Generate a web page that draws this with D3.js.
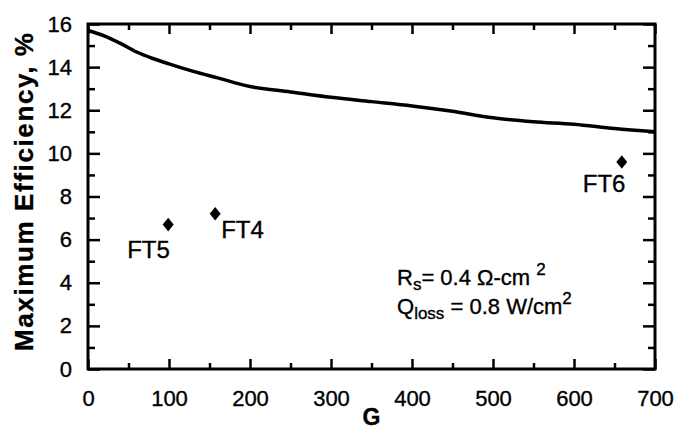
<!DOCTYPE html>
<html>
<head>
<meta charset="utf-8">
<script src="https://cdn.jsdelivr.net/npm/d3@7"></script>
<style>
  body { margin: 0; background: #fff; }
  text { font-family: "Liberation Sans", Arial, Helvetica, sans-serif; fill: #000; stroke: #000; stroke-width: 0.35px; }
</style>
</head>
<body>
<script>
// Curve: max efficiency vs G
var curveG   = [0, 20, 40, 60, 80, 100, 130, 160, 200, 250, 300, 350, 400, 450, 500, 550, 600, 650, 700];
var curveEff = [15.7, 15.45, 15.1, 14.7, 14.4, 14.15, 13.8, 13.5, 13.1, 12.85, 12.6, 12.4, 12.2, 11.95, 11.65, 11.47, 11.35, 11.15, 11.0];

// Measured points
var pointNames = ["FT5", "FT4", "FT6"];
var pointG     = [99, 157, 659];
var pointEff   = [6.7, 7.2, 9.6];

var xTicks = [0, 100, 200, 300, 400, 500, 600, 700];
var xMinor = [50, 150, 250, 350, 450, 550, 650];
var yTicks = [0, 2, 4, 6, 8, 10, 12, 14, 16];
var yMinor = [1, 3, 5, 7, 9, 11, 13, 15];

var svgOptions = { width: 680, height: 429 };
var margin = { top: 24, right: 25, bottom: 60, left: 88 };
var w = svgOptions.width - margin.left - margin.right;
var h = svgOptions.height - margin.top - margin.bottom;

var svg = d3.select("body").append("svg")
  .attr("width", svgOptions.width)
  .attr("height", svgOptions.height);

var g = svg.append("g").attr("transform", "translate(" + margin.left + "," + margin.top + ")");

var x = d3.scaleLinear().domain([0, 700]).range([0, w]);
var y = d3.scaleLinear().domain([0, 16]).range([h, 0]);

// helper to style an axis group
var styleAxis = function (sel) {
  sel.select(".domain").remove();
  sel.selectAll(".tick line").attr("stroke", "#000").attr("stroke-width", 2.5);
  sel.selectAll(".tick text").style("font-size", "22px").attr("fill", "#000");
};

// bottom, major + minor
g.append("g").attr("transform", "translate(0," + h + ")")
  .call(d3.axisBottom(x).tickValues(xTicks).tickSize(-10).tickPadding(21).tickFormat(d3.format("d")))
  .call(styleAxis);
g.append("g").attr("transform", "translate(0," + h + ")")
  .call(d3.axisBottom(x).tickValues(xMinor).tickSize(-6).tickFormat(""))
  .call(styleAxis);

// top
g.append("g")
  .call(d3.axisTop(x).tickValues(xTicks).tickSize(-10).tickFormat(""))
  .call(styleAxis);
g.append("g")
  .call(d3.axisTop(x).tickValues(xMinor).tickSize(-6).tickFormat(""))
  .call(styleAxis);

// left
g.append("g")
  .call(d3.axisLeft(y).tickValues(yTicks).tickSize(-12).tickPadding(16).tickFormat(d3.format("d")))
  .call(styleAxis);
g.append("g")
  .call(d3.axisLeft(y).tickValues(yMinor).tickSize(-7).tickFormat(""))
  .call(styleAxis);

// right
g.append("g").attr("transform", "translate(" + w + ",0)")
  .call(d3.axisRight(y).tickValues(yTicks).tickSize(-12).tickFormat(""))
  .call(styleAxis);
g.append("g").attr("transform", "translate(" + w + ",0)")
  .call(d3.axisRight(y).tickValues(yMinor).tickSize(-7).tickFormat(""))
  .call(styleAxis);

// frame
g.append("rect")
  .attr("width", w).attr("height", h)
  .attr("fill", "none").attr("stroke", "#000").attr("stroke-width", 3);

// curve
var line = d3.line()
  .x(function (d, i) { return x(curveG[i]); })
  .y(function (d) { return y(d); })
  .curve(d3.curveMonotoneX);

g.append("path")
  .datum(curveEff)
  .attr("d", line)
  .attr("fill", "none")
  .attr("stroke", "#000")
  .attr("stroke-width", 3.5);

// diamonds
var diamond = d3.symbol().type(d3.symbolDiamond2).size(77);
g.selectAll(".pt")
  .data(pointG)
  .enter().append("path")
  .attr("class", "pt")
  .attr("d", diamond)
  .attr("transform", function (d, i) { return "translate(" + x(d) + "," + y(pointEff[i]) + ") scale(1,1.25)"; })
  .attr("fill", "#000");

// point labels (offsets relative to each diamond)
var labelOffsets = [[-41, 33], [6, 24], [-39, 30]];
g.selectAll(".pt-label")
  .data(pointNames)
  .enter().append("text")
  .attr("class", "pt-label")
  .attr("x", function (d, i) { return x(pointG[i]) + labelOffsets[i][0]; })
  .attr("y", function (d, i) { return y(pointEff[i]) + labelOffsets[i][1]; })
  .style("font-size", "24px")
  .text(function (d) { return d; });

// annotation
var note1 = svg.append("text").attr("x", 397).attr("y", 285).style("font-size", "22px");
note1.append("tspan").text("R");
note1.append("tspan").attr("dy", 5).style("font-size", "17px").text("s");
note1.append("tspan").attr("dy", -5).text("= 0.4 \u03A9-cm ");
note1.append("tspan").attr("dy", -10).style("font-size", "17px").text("2");

var note2 = svg.append("text").attr("x", 397).attr("y", 314).style("font-size", "22px");
note2.append("tspan").text("Q");
note2.append("tspan").attr("dy", 5).style("font-size", "17px").text("loss");
note2.append("tspan").attr("dy", -5).text(" = 0.8 W/cm");
note2.append("tspan").attr("dy", -10).style("font-size", "17px").text("2");

// axis titles
svg.append("text")
  .attr("x", margin.left + w / 2)
  .attr("y", 425)
  .attr("text-anchor", "middle")
  .style("font-size", "23px")
  .style("font-weight", "bold")
  .text("G");

svg.append("text")
  .attr("transform", "translate(33,192) rotate(-90)")
  .attr("text-anchor", "middle")
  .attr("textLength", 318)
  .attr("lengthAdjust", "spacing")
  .style("font-size", "26px")
  .style("font-weight", "bold")
  .text("Maximum Efficiency, %");
</script>
</body>
</html>
